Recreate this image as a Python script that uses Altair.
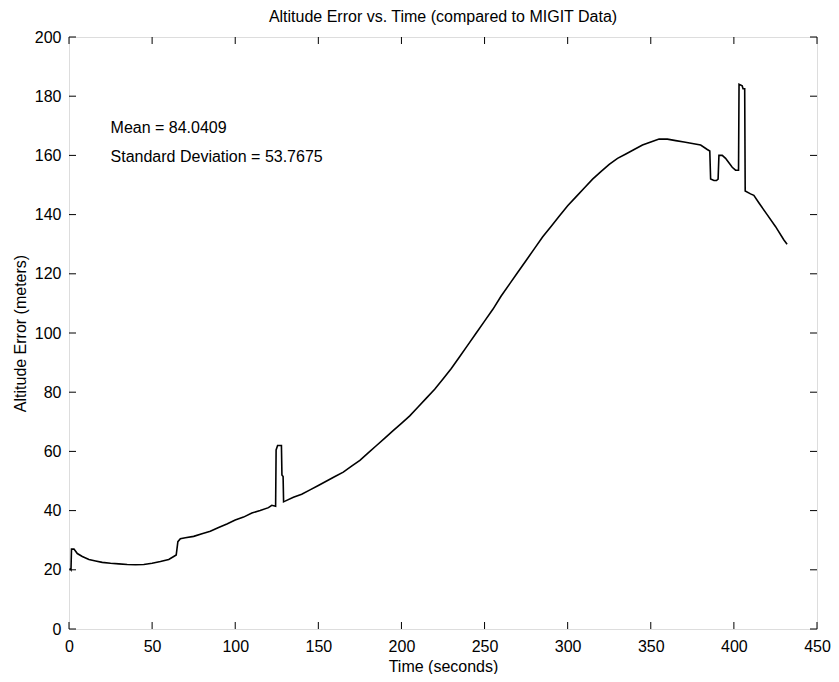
import altair as alt
import pandas as pd

# Altitude error series (time in seconds, error in meters)
time_s = [0.5, 1.2, 1.5, 3, 5, 8, 12, 16, 20, 25, 30, 35, 40, 45, 50, 55, 60, 63, 64.5,
          65.5, 67, 70, 75, 80, 85, 90, 95, 100, 105, 110, 115, 120, 122, 124.3,
          124.6, 125.5, 127.8, 128.1, 128.8, 129.1, 130, 135, 140, 145, 150, 155, 160,
          165, 170, 175, 180, 185, 190, 195, 200, 205, 210, 215, 220, 225, 230, 235,
          240, 245, 250, 255, 260, 265, 270, 275, 280, 285, 290, 295, 300, 305, 310,
          315, 320, 325, 330, 335, 340, 345, 350, 355, 360, 365, 370, 375, 380, 384,
          385.5, 386, 388, 389.5, 390.5, 391, 393, 395, 397, 399, 401, 402.8, 403.1,
          405, 405.5, 406.5, 406.8, 410, 412, 415, 420, 425, 430, 432]
alt_err = [20.5, 20, 27, 27, 25.5, 24.5, 23.5, 23, 22.5, 22.2, 22, 21.8, 21.7, 21.8, 22.2,
           22.8, 23.5, 24.5, 25, 29.5, 30.5, 30.8, 31.3, 32.2, 33, 34.3, 35.5, 36.8,
           37.8, 39.2, 40, 41, 41.8, 41.5, 60.5, 62, 62, 52, 51.5, 43, 43.2, 44.5,
           45.5, 47, 48.5, 50, 51.5, 53, 55, 57, 59.5, 62, 64.5, 67, 69.5, 72, 75, 78,
           81, 84.5, 88, 92, 96, 100, 104, 108, 112.5, 116.5, 120.5, 124.5, 128.5,
           132.5, 136, 139.5, 143, 146, 149, 152, 154.5, 157, 159, 160.5, 162, 163.5,
           164.5, 165.5, 165.5, 165, 164.5, 164, 163.5, 162, 161.5, 152, 151.5, 151.5,
           152, 160, 160, 159, 157.5, 156, 155, 155, 184, 183.5, 182.5, 182.5, 148,
           147, 146.5, 144, 140, 136, 131.5, 130]

x_ticks = [0, 50, 100, 150, 200, 250, 300, 350, 400, 450]
y_ticks = [0, 20, 40, 60, 80, 100, 120, 140, 160, 180, 200]

ann_x = [25, 25]
ann_y = [169.4, 159.5]
ann_text = ["Mean = 84.0409", "Standard Deviation = 53.7675"]

FONT = "Liberation Sans"
W, H = 748, 592
TL = 7

series = pd.DataFrame({"t": time_s, "v": alt_err})
xt = pd.DataFrame({"t": x_ticks})
yt = pd.DataFrame({"v": y_ticks})
ann = pd.DataFrame({"t": ann_x, "v": ann_y, "label": ann_text})

xs = alt.Scale(domain=[0, 450], nice=False, zero=False)
ys = alt.Scale(domain=[0, 200], nice=False, zero=False)

xaxis = alt.Axis(values=x_ticks, title="Time (seconds)", grid=False, domain=False,
                 tickSize=0, labelPadding=9, titlePadding=4, labelFontSize=16,
                 titleFontSize=16, labelFont=FONT, titleFont=FONT, titleFontWeight="normal",
                 labelColor="black", titleColor="black", labelFlush=False)
yaxis = alt.Axis(values=y_ticks, title="Altitude Error (meters)", grid=False, domain=False,
                 tickSize=0, labelPadding=8, titlePadding=6, labelFontSize=16,
                 titleFontSize=16, labelFont=FONT, titleFont=FONT, titleFontWeight="normal",
                 labelColor="black", titleColor="black", labelFlush=False)

line = alt.Chart(series).mark_line(color="black", strokeWidth=1.6).encode(
    x=alt.X("t:Q", scale=xs, axis=xaxis),
    y=alt.Y("v:Q", scale=ys, axis=yaxis),
)

xb = alt.Chart(xt).mark_rule(color="black", strokeWidth=1).encode(
    x=alt.X("t:Q", scale=xs, axis=xaxis), y=alt.value(H), y2=alt.value(H - TL))
xtop = alt.Chart(xt).mark_rule(color="black", strokeWidth=1).encode(
    x=alt.X("t:Q", scale=xs, axis=xaxis), y=alt.value(0), y2=alt.value(TL))
yl = alt.Chart(yt).mark_rule(color="black", strokeWidth=1).encode(
    y=alt.Y("v:Q", scale=ys, axis=yaxis), x=alt.value(0), x2=alt.value(TL))
yr = alt.Chart(yt).mark_rule(color="black", strokeWidth=1).encode(
    y=alt.Y("v:Q", scale=ys, axis=yaxis), x=alt.value(W), x2=alt.value(W - TL))

text = alt.Chart(ann).mark_text(align="left", baseline="middle", font=FONT,
                                fontSize=16, color="black").encode(
    x=alt.X("t:Q", scale=xs, axis=xaxis),
    y=alt.Y("v:Q", scale=ys, axis=yaxis),
    text="label:N",
)

chart = alt.layer(line, xb, xtop, yl, yr, text).properties(
    width=W, height=H,
    title=alt.TitleParams("Altitude Error vs. Time (compared to MIGIT Data)",
                          fontSize=16, font=FONT, fontWeight="normal", color="black",
                          anchor="middle", offset=4),
    autosize=alt.AutoSizeParams(type="none"),
    padding={"left": 61, "top": 29, "right": 14, "bottom": 45},
).configure_view(stroke="black", strokeWidth=1.2).configure(background="white")

chart.save("out.html", embed_options={"renderer": "svg", "actions": False})
